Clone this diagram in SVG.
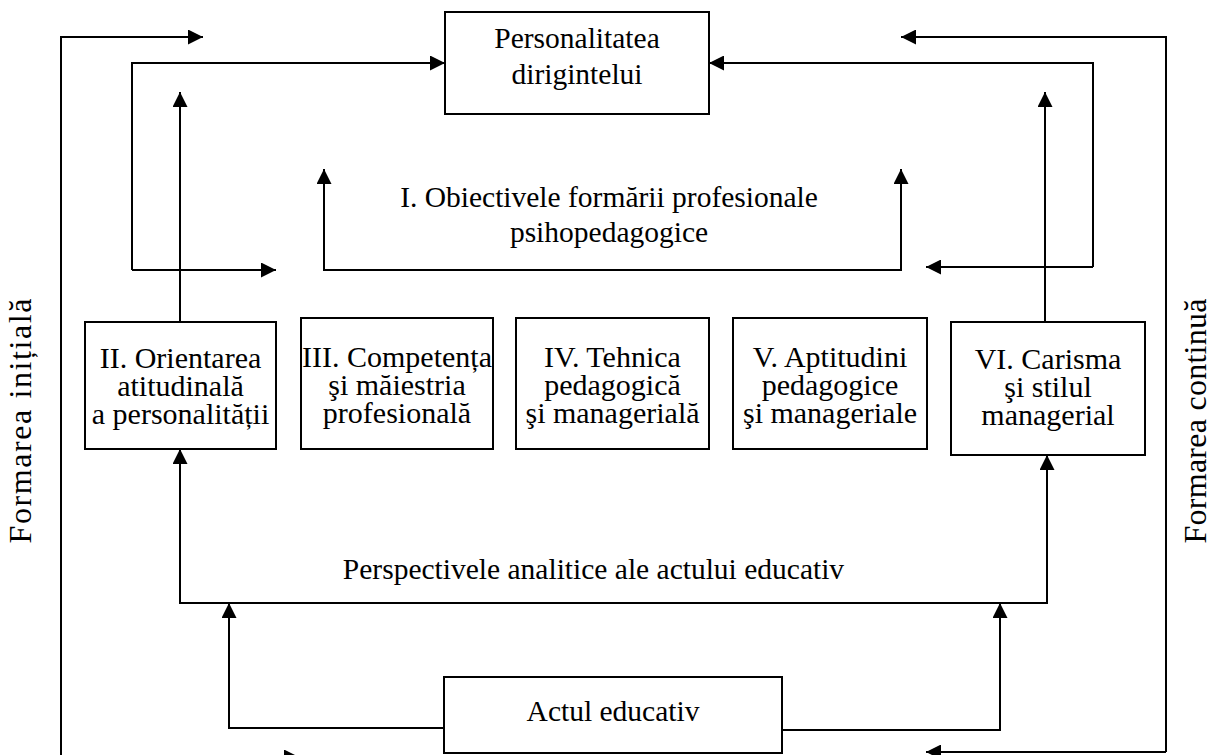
<svg xmlns="http://www.w3.org/2000/svg" width="1216" height="755" viewBox="0 0 1216 755" font-family="'Liberation Serif', 'DejaVu Serif', 'Times New Roman', serif">
<style>
text{font-family:'Liberation Serif','DejaVu Serif','Times New Roman',serif;font-size:29.5px;fill:#000;text-anchor:middle}
.bt{font-size:30px}
.vt{font-size:32px}
.box{fill:#fff;stroke:#000;stroke-width:2}
.ln{fill:none;stroke:#000;stroke-width:2}
</style>
<defs>
<marker id="ah" viewBox="0 0 15 15" refX="15" refY="7.5" markerWidth="15" markerHeight="15" markerUnits="userSpaceOnUse" orient="auto">
<path d="M0,0 L15,7.5 L0,15 Z" fill="#000"/>
</marker>
</defs>
<rect width="1216" height="755" fill="#fff"/>
<g id="connectors">
<path class="ln" d="M61,757 V37 H203" marker-end="url(#ah)"/>
<path class="ln" d="M61,757 H299" marker-end="url(#ah)"/>
<path class="ln" d="M1166,752 V37 H901" marker-end="url(#ah)"/>
<path class="ln" d="M1166,752 H926" marker-end="url(#ah)"/>
<path class="ln" d="M132,270 V63 H445" marker-end="url(#ah)"/>
<path class="ln" d="M132,270 H276" marker-end="url(#ah)"/>
<path class="ln" d="M1093,267 V63 H709" marker-end="url(#ah)"/>
<path class="ln" d="M1093,267 H926" marker-end="url(#ah)"/>
<path class="ln" d="M180,322 V92" marker-end="url(#ah)"/>
<path class="ln" d="M1045,322 V92" marker-end="url(#ah)"/>
<path class="ln" d="M612,270 H324 V169" marker-end="url(#ah)"/>
<path class="ln" d="M612,270 H901 V169" marker-end="url(#ah)"/>
<path class="ln" d="M600,603 H180 V449" marker-end="url(#ah)"/>
<path class="ln" d="M600,603 H1047 V455" marker-end="url(#ah)"/>
<path class="ln" d="M444,728 H229 V603" marker-end="url(#ah)"/>
<path class="ln" d="M782,730 H1000 V603" marker-end="url(#ah)"/>
</g>
<g id="personalitatea">
<rect class="box" x="445" y="12" width="264" height="102"/>
<text x="577" y="48">Personalitatea</text>
<text x="577" y="84">dirigintelui</text>
</g>
<g id="obiective">
<text x="609" y="207">I. Obiectivele formării profesionale</text>
<text x="609" y="242">psihopedagogice</text>
</g>
<g id="n2">
<rect class="box" x="85" y="322" width="191" height="127"/>
<text class="bt" x="180.5" y="368">II. Orientarea</text>
<text class="bt" x="180.5" y="396">atitudinală</text>
<text class="bt" x="180.5" y="424">a personalității</text>
</g>
<g id="n3">
<rect class="box" x="301" y="318" width="192" height="131"/>
<text class="bt" x="397" y="367">III. Competența</text>
<text class="bt" x="397" y="395">şi măiestria</text>
<text class="bt" x="397" y="423">profesională</text>
</g>
<g id="n4">
<rect class="box" x="516" y="318" width="193" height="131"/>
<text class="bt" x="612.5" y="367">IV. Tehnica</text>
<text class="bt" x="612.5" y="395">pedagogică</text>
<text class="bt" x="612.5" y="423">şi managerială</text>
</g>
<g id="n5">
<rect class="box" x="733" y="318" width="194" height="131"/>
<text class="bt" x="830" y="367">V. Aptitudini</text>
<text class="bt" x="830" y="395">pedagogice</text>
<text class="bt" x="830" y="423">şi manageriale</text>
</g>
<g id="n6">
<rect class="box" x="951" y="322" width="194" height="133"/>
<text class="bt" x="1048" y="369">VI. Carisma</text>
<text class="bt" x="1048" y="397">şi stilul</text>
<text class="bt" x="1048" y="425">managerial</text>
</g>
<g id="perspective">
<text x="593.5" y="579">Perspectivele analitice ale actului educativ</text>
</g>
<g id="actul">
<rect class="box" x="444" y="677" width="338" height="76"/>
<text x="613" y="721">Actul educativ</text>
</g>
<g id="formare-initiala">
<text class="vt" transform="translate(31,421) rotate(-90)" textLength="245">Formarea inițială</text>
</g>
<g id="formare-continua">
<text class="vt" transform="translate(1206,421) rotate(-90)" textLength="245">Formarea continuă</text>
</g>
</svg>
